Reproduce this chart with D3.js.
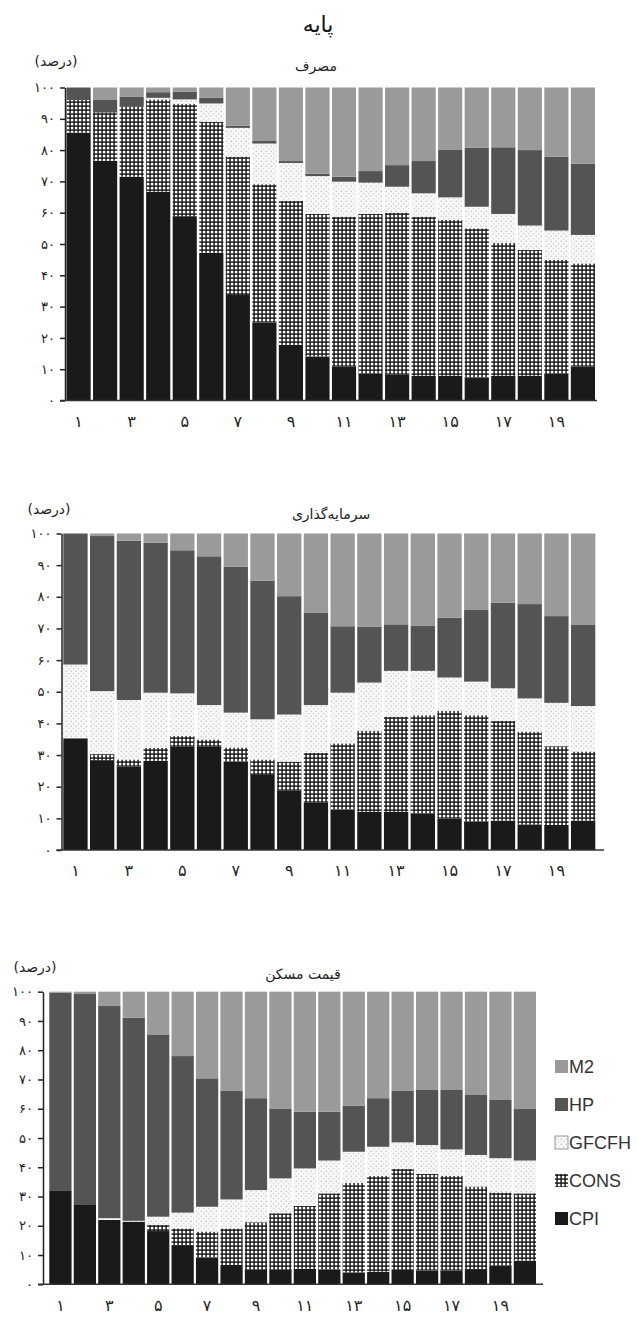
<!DOCTYPE html>
<html>
<head>
  <meta charset="utf-8">
  <title>پایه</title>
  <script src="https://d3js.org/d3.v7.min.js"></script>
  <style>
    body {
      margin: 0;
      padding: 0;
      background: #fff;
    }
    svg text {
      font-family: "DejaVu Sans", sans-serif;
      fill: #222;
    }
    .legend text {
      font-family: "Liberation Sans", Arial, sans-serif;
      fill: #333;
    }
  </style>
</head>
<body>
<svg id="chart" width="637" height="1318"></svg>
<script>

var periods = [1, 2, 3, 4, 5, 6, 7, 8, 9, 10, 11, 12, 13, 14, 15, 16, 17, 18, 19, 20];
var xTickPeriods = [1, 3, 5, 7, 9, 11, 13, 15, 17, 19];
var yTicks = [0, 10, 20, 30, 40, 50, 60, 70, 80, 90, 100];
var seriesKeys = ["CPI", "CONS", "GFCFH", "HP", "M2"];
var legendOrder = ["M2", "HP", "GFCFH", "CONS", "CPI"];

// مصرف
var consumptionCPI   = [85.6, 76.6, 71.5, 66.7, 58.9, 47.2, 33.7, 24.9, 17.8, 14.1, 10.9, 8.5, 8.2, 7.9, 7.9, 7.4, 7.9, 7.9, 8.5, 10.9];
var consumptionCONS  = [10.4, 15.4, 22.5, 29.5, 35.8, 41.8, 44.2, 44.2, 46.0, 45.5, 47.8, 51.1, 51.8, 50.8, 49.8, 47.6, 42.5, 40.2, 36.4, 32.9];
var consumptionGFCFH = [0, 0, 0, 0.5, 1.5, 5.9, 9.2, 13.0, 12.1, 12.1, 11.2, 10.0, 8.3, 7.5, 7.2, 6.9, 9.2, 7.8, 9.4, 9.1];
var consumptionHP    = [4.0, 4.0, 3.0, 1.8, 2.4, 1.9, 0.7, 0.8, 0.6, 0.8, 1.6, 3.7, 6.9, 10.3, 15.3, 18.8, 21.3, 24.1, 23.6, 22.8];
var consumptionM2    = [0, 4.0, 3.0, 1.5, 1.4, 3.2, 12.2, 17.1, 23.5, 27.5, 28.5, 26.7, 24.8, 23.5, 19.8, 19.3, 19.1, 20.0, 22.1, 24.3];

// سرمایه‌گذاری
var investmentCPI   = [35.3, 28.4, 26.3, 28.2, 32.6, 32.6, 27.9, 23.7, 18.7, 14.9, 12.8, 12.1, 12.1, 11.6, 10.0, 8.9, 9.3, 8.1, 7.9, 9.3];
var investmentCONS  = [0, 1.9, 2.3, 4.1, 3.4, 2.3, 4.5, 4.9, 9.2, 15.8, 20.9, 25.6, 30.0, 31.0, 34.0, 33.7, 31.5, 29.3, 24.9, 21.8];
var investmentGFCFH = [23.3, 19.9, 18.8, 17.4, 13.5, 10.9, 11.0, 12.7, 14.9, 15.1, 16.0, 15.2, 14.5, 14.0, 10.5, 10.6, 10.3, 10.5, 13.7, 14.4];
var investmentHP    = [41.4, 49.0, 50.3, 47.4, 45.2, 47.0, 46.1, 43.8, 37.4, 29.1, 21.0, 17.6, 14.7, 14.2, 18.9, 22.8, 27.0, 29.8, 27.4, 25.6];
var investmentM2    = [0, 0.8, 2.3, 2.9, 5.3, 7.2, 10.5, 14.9, 19.8, 25.1, 29.3, 29.5, 28.7, 29.2, 26.6, 24.0, 21.9, 22.3, 26.1, 28.9];

// قیمت مسکن
var housingCPI   = [31.9, 27.1, 22.0, 21.4, 18.2, 13.4, 9.2, 6.6, 4.9, 4.9, 5.3, 5.1, 4.1, 4.3, 4.9, 4.7, 4.7, 5.2, 6.3, 8.1];
var housingCONS  = [0, 0, 0, 0, 2.1, 5.7, 8.8, 12.5, 16.3, 19.4, 21.5, 26.0, 30.6, 32.7, 34.5, 33.0, 32.4, 28.2, 25.1, 23.0];
var housingGFCFH = [0, 0, 0.6, 0.3, 2.8, 5.4, 8.5, 9.9, 11.0, 11.9, 12.8, 11.2, 10.6, 10.0, 9.1, 9.9, 9.0, 10.8, 11.7, 11.2];
var housingHP    = [67.8, 72.1, 72.5, 69.4, 62.3, 53.5, 43.9, 37.1, 31.4, 23.9, 19.4, 16.7, 15.7, 16.6, 17.6, 19.0, 20.5, 20.7, 19.9, 17.6];
var housingM2    = [0.3, 0.8, 4.9, 8.9, 14.6, 22.0, 29.6, 33.9, 36.4, 39.9, 41.0, 41.0, 39.0, 36.4, 33.9, 33.4, 33.4, 35.1, 37.0, 40.1];

var faDigits = "۰۱۲۳۴۵۶۷۸۹";
function toFa(n) {
  return String(n).replace(/\d/g, function(d) { return faDigits[+d]; });
}

function rows(cpi, cons, gfcfh, hp, m2) {
  return periods.map(function(p, i) {
    return { period: p, CPI: cpi[i], CONS: cons[i], GFCFH: gfcfh[i], HP: hp[i], M2: m2[i] };
  });
}

var panels = [
  { title: "مصرف", titleX: 316, titleY: 71, unitX: 56, unitY: 66,
    top: 87.5, bottom: 400.5, left: 66.5, right: 595, axisX: 65, axisEnd: 597,
    data: rows(consumptionCPI, consumptionCONS, consumptionGFCFH, consumptionHP, consumptionM2) },
  { title: "سرمایه\u200cگذاری", titleX: 331, titleY: 519, unitX: 49, unitY: 514,
    top: 533.5, bottom: 850, left: 63.3, right: 595.3, axisX: 61.5, axisEnd: 604,
    data: rows(investmentCPI, investmentCONS, investmentGFCFH, investmentHP, investmentM2) },
  { title: "قیمت مسکن", titleX: 303, titleY: 979, unitX: 35, unitY: 972,
    top: 991.7, bottom: 1284.3, left: 49.3, right: 536, axisX: 43, axisEnd: 543,
    data: rows(housingCPI, housingCONS, housingGFCFH, housingHP, housingM2) }
];

var svg = d3.select("#chart");

// patterns
var defs = svg.append("defs");

var cons = defs.append("pattern")
    .attr("id", "pat-cons")
    .attr("patternUnits", "userSpaceOnUse")
    .attr("width", 4)
    .attr("height", 4);
cons.append("rect").attr("width", 4).attr("height", 4).attr("fill", "#fff");
cons.append("rect").attr("x", 0).attr("y", 1.4).attr("width", 4).attr("height", 1.4).attr("fill", "#111");
cons.append("rect").attr("x", 1.4).attr("y", 0).attr("width", 1.4).attr("height", 4).attr("fill", "#111");

var gf = defs.append("pattern")
    .attr("id", "pat-gfcfh")
    .attr("patternUnits", "userSpaceOnUse")
    .attr("width", 5)
    .attr("height", 5);
gf.append("rect").attr("width", 5).attr("height", 5).attr("fill", "#f7f7f7");
gf.append("circle").attr("cx", 1.2).attr("cy", 1.2).attr("r", 0.7).attr("fill", "#bdbdbd");
gf.append("circle").attr("cx", 3.7).attr("cy", 3.7).attr("r", 0.7).attr("fill", "#cfcfcf");

var fills = {
  CPI: "#1a1a1a",
  CONS: "url(#pat-cons)",
  GFCFH: "url(#pat-gfcfh)",
  HP: "#545454",
  M2: "#9a9a9a"
};

var stack = d3.stack().keys(seriesKeys);

// main title
svg.append("text")
    .attr("x", 318)
    .attr("y", 32)
    .attr("text-anchor", "middle")
    .style("font-size", "22px")
    .style("fill", "#111")
    .text("پایه");

panels.forEach(function(p) {
  var g = svg.append("g");

  var x = d3.scaleBand()
      .domain(periods)
      .range([p.left, p.right])
      .paddingInner(0.09)
      .paddingOuter(0);

  var y = d3.scaleLinear()
      .domain([0, 100])
      .range([p.bottom, p.top]);

  var layers = stack(p.data);

  g.selectAll(".layer")
      .data(layers)
    .enter().append("g")
      .attr("class", "layer")
      .attr("fill", function(d) { return fills[d.key]; })
    .selectAll("rect")
      .data(function(d) { return d; })
    .enter().append("rect")
      .attr("x", function(d) { return x(d.data.period); })
      .attr("width", x.bandwidth())
      .attr("y", function(d) { return y(d[1]); })
      .attr("height", function(d) { return Math.max(0, y(d[0]) - y(d[1])); });

  // y axis
  var yAxis = d3.axisLeft(y)
      .tickValues(yTicks)
      .tickFormat(toFa)
      .tickSize(5)
      .tickSizeOuter(0)
      .tickPadding(5);

  var ya = g.append("g")
      .attr("transform", "translate(" + p.axisX + ",0)")
      .call(yAxis);
  ya.select(".domain").attr("stroke", "#222").attr("stroke-width", 1.5);
  ya.selectAll(".tick line").attr("stroke", "#222").attr("stroke-width", 1.5);
  ya.selectAll(".tick text")
      .style("font-size", "13px")
      .style("font-family", "DejaVu Sans, sans-serif")
      .attr("fill", "#222");

  // x axis
  var xAxis = d3.axisBottom(x)
      .tickValues(xTickPeriods)
      .tickFormat(toFa)
      .tickSize(0)
      .tickPadding(15);

  var xa = g.append("g")
      .attr("transform", "translate(0," + p.bottom + ")")
      .call(xAxis);
  xa.select(".domain").remove();
  xa.selectAll(".tick text")
      .style("font-size", "16px")
      .style("font-family", "DejaVu Sans, sans-serif")
      .attr("fill", "#222");

  g.append("line")
      .attr("x1", p.axisX - 5)
      .attr("x2", p.axisEnd)
      .attr("y1", p.bottom)
      .attr("y2", p.bottom)
      .attr("stroke", "#333")
      .attr("stroke-width", 1.5);

  g.append("text")
      .attr("x", p.titleX)
      .attr("y", p.titleY)
      .attr("text-anchor", "middle")
      .style("font-size", "14px")
      .text(p.title);

  g.append("text")
      .attr("x", p.unitX)
      .attr("y", p.unitY)
      .attr("text-anchor", "middle")
      .style("font-size", "14px")
      .text("(درصد)");
});

// legend
var legend = svg.append("g")
    .attr("class", "legend")
    .attr("transform", "translate(555,1067)");

var item = legend.selectAll(".item")
    .data(legendOrder)
  .enter().append("g")
    .attr("class", "item")
    .attr("transform", function(d, i) { return "translate(0," + (i * 38) + ")"; });

item.append("rect")
    .attr("x", 0)
    .attr("y", -7)
    .attr("width", 13)
    .attr("height", 13)
    .attr("fill", function(d) { return fills[d]; })
    .attr("stroke", function(d) { return d === "GFCFH" ? "#999" : "none"; })
    .attr("stroke-width", 1);

item.append("text")
    .attr("x", 14)
    .attr("y", 0)
    .attr("dy", "0.35em")
    .style("font-size", "18px")
    .text(function(d) { return d; });

</script>
</body>
</html>
